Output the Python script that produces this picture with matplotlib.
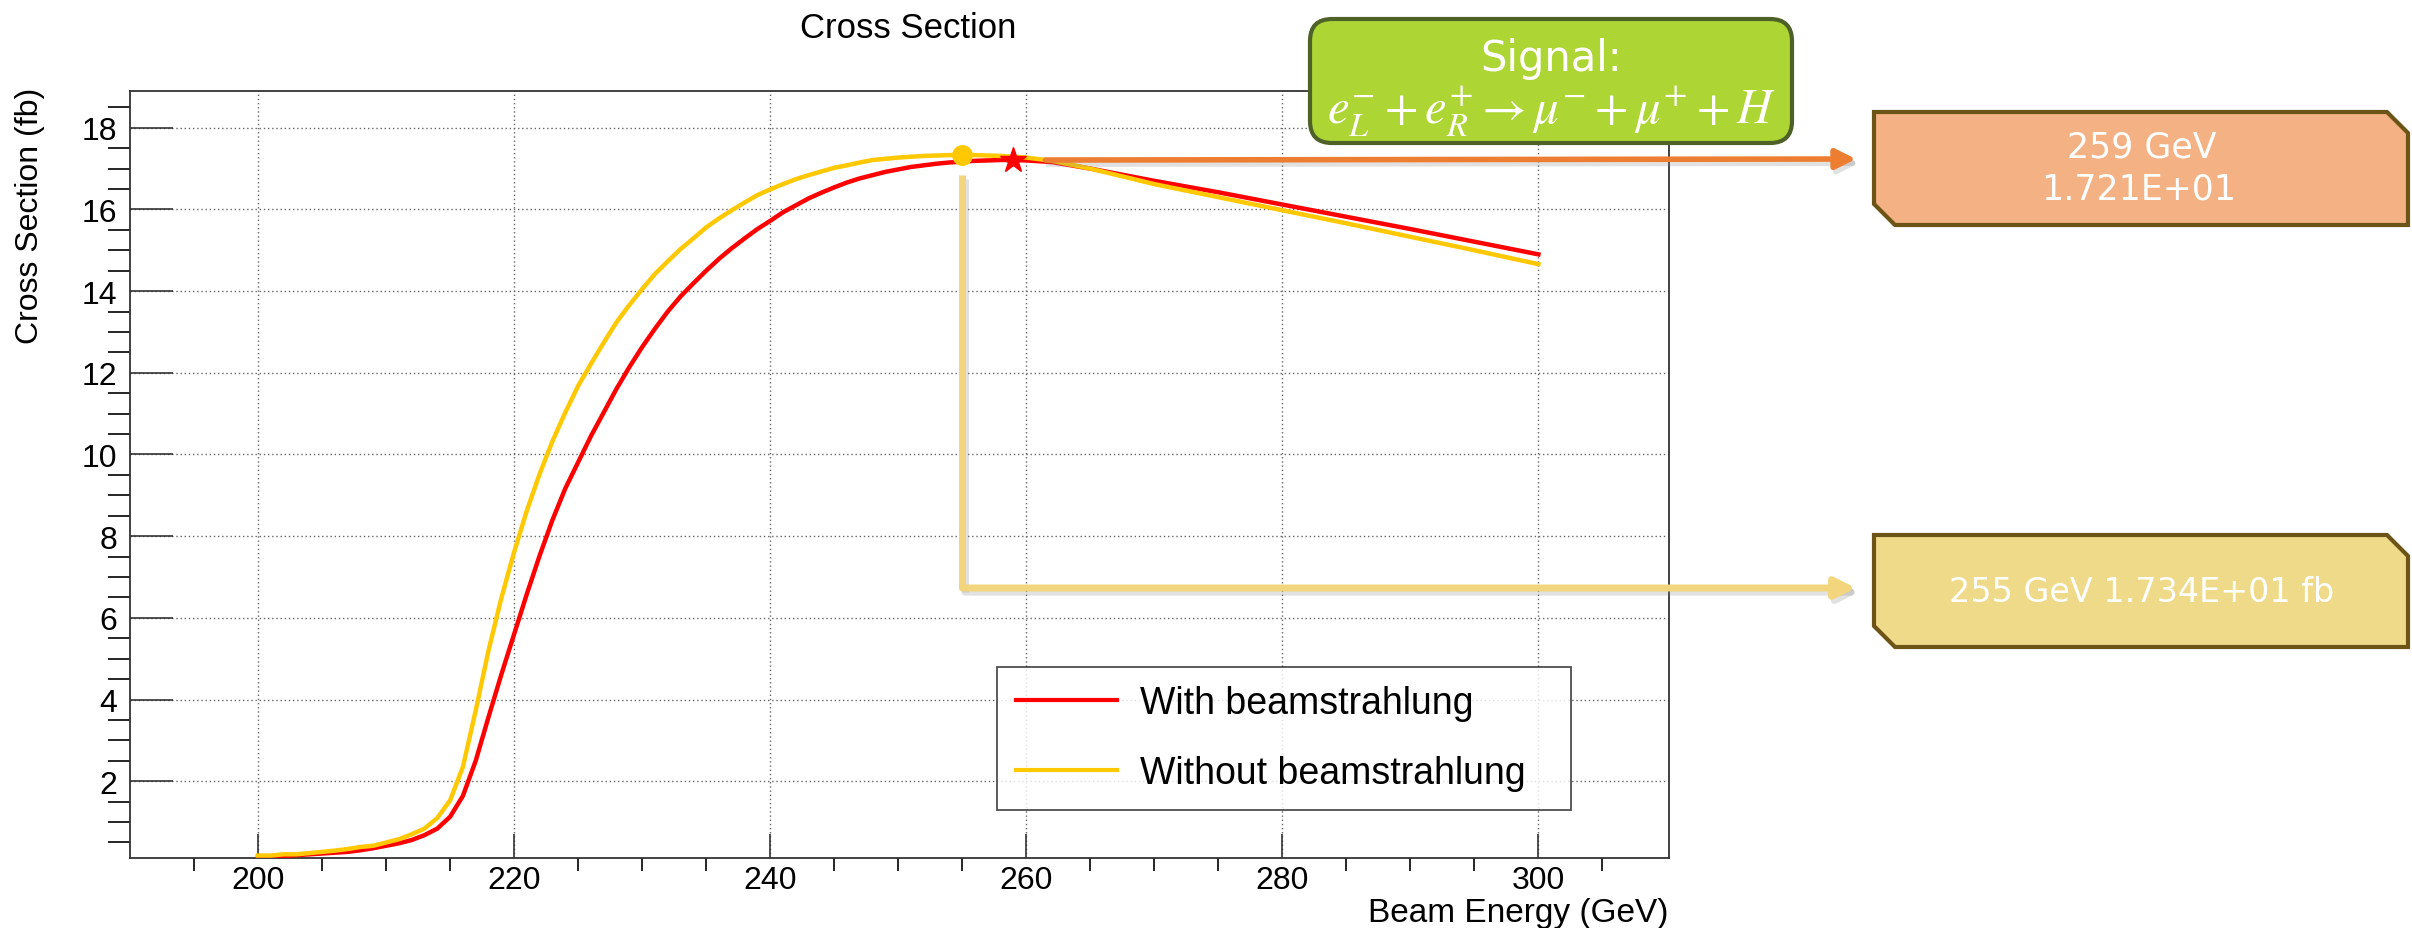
import numpy as np
import matplotlib
matplotlib.use("Agg")
import matplotlib.pyplot as plt
import matplotlib.patheffects as pe
from matplotlib.patches import Polygon, FancyBboxPatch, ConnectionPatch
from matplotlib.lines import Line2D

plt.rcParams['font.family'] = ['Liberation Sans', 'DejaVu Sans']
plt.rcParams['mathtext.fontset'] = 'stix'

# beam energy (GeV)
energy = [200, 201, 202, 203, 204, 205, 206, 207, 208, 209,
          210, 211, 212, 213, 214, 215, 216, 217, 218, 219,
          220, 221, 222, 223, 224, 225, 226, 227, 228, 229,
          230, 231, 232, 233, 234, 235, 236, 237, 238, 239,
          240, 241, 242, 243, 244, 245, 246, 247, 248, 249,
          250, 251, 252, 253, 254, 255, 256, 257, 258, 259,
          260, 262, 265, 270, 275, 280, 285, 290, 295, 300]

# cross section (fb) with beamstrahlung
xs_with = [0.14, 0.15, 0.17, 0.19, 0.21, 0.23, 0.25, 0.27, 0.31, 0.36,
           0.42, 0.48, 0.56, 0.68, 0.84, 1.13, 1.64, 2.50, 3.57, 4.61,
           5.60, 6.59, 7.53, 8.40, 9.17, 9.81, 10.45, 11.03, 11.61, 12.14,
           12.63, 13.08, 13.50, 13.87, 14.19, 14.50, 14.79, 15.05, 15.29, 15.52,
           15.72, 15.93, 16.10, 16.27, 16.41, 16.54, 16.66, 16.76, 16.84, 16.92,
           16.98, 17.04, 17.08, 17.12, 17.15, 17.17, 17.19, 17.20, 17.21, 17.21,
           17.20, 17.16, 17.00, 16.70, 16.42, 16.12, 15.82, 15.52, 15.21, 14.90]

# cross section (fb) without beamstrahlung
xs_without = [0.18, 0.18, 0.21, 0.21, 0.24, 0.27, 0.30, 0.34, 0.39, 0.42,
              0.50, 0.58, 0.70, 0.84, 1.10, 1.53, 2.35, 3.73, 5.20, 6.48,
              7.61, 8.63, 9.53, 10.33, 11.03, 11.68, 12.22, 12.74, 13.24, 13.66,
              14.05, 14.42, 14.73, 15.03, 15.29, 15.56, 15.78, 15.98, 16.17, 16.35,
              16.49, 16.62, 16.74, 16.84, 16.93, 17.02, 17.08, 17.15, 17.21, 17.24,
              17.27, 17.29, 17.31, 17.32, 17.33, 17.34, 17.33, 17.32, 17.31, 17.29,
              17.27, 17.19, 17.00, 16.62, 16.30, 15.98, 15.66, 15.33, 15.00, 14.66]

peak_with = (259, 17.21)
peak_without = (255, 17.34)

W, H = 2412, 929
fig = plt.figure(figsize=(W / 100, H / 100), dpi=100)


def fx(px):
    return px / W


def fy(py):
    return 1 - py / H


ax = fig.add_axes([fx(130), fy(859), fx(1669) - fx(130), fy(92) - fy(859)])

ax.plot(energy, xs_with, color='#ff0000', lw=3.2, label='With beamstrahlung', zorder=3)
ax.plot(energy, xs_without, color='#ffc800', lw=3.2, label='Without beamstrahlung', zorder=3)
ax.plot(*peak_without, marker='o', color='#ffc800', ms=14, zorder=4)
ax.plot(*peak_with, marker='*', color='#ff0000', ms=19, zorder=4)

ax.set_xlim(190, 310.2)
ax.set_ylim(0.12, 18.9)
ax.set_xticks(np.arange(200, 301, 20))
ax.set_xticks(np.arange(195, 310, 5), minor=True)
ax.set_yticks(np.arange(2, 19, 2))
ax.set_yticks(np.arange(0.5, 18.9, 0.5), minor=True)
ax.grid(True, which='major', linestyle=(0, (1, 2)), color='#666666', lw=1.0)
ax.tick_params(direction='in', labelsize=23, color='#333333')
ax.tick_params(axis='y', which='major', length=31, width=1.2, pad=9)
ax.tick_params(axis='y', which='minor', length=16, width=1.2)
ax.tick_params(axis='x', which='major', length=17, width=1.2, pad=5)
ax.tick_params(axis='x', which='minor', length=9, width=1.2)
for s in ax.spines.values():
    s.set_color('#333333')
    s.set_linewidth(1.3)

fig.text(fx(908), fy(28), 'Cross Section', ha='center', va='center', fontsize=25)
fig.text(fx(30), fy(88), 'Cross Section (fb)', rotation=90, ha='center', va='top', fontsize=23)
fig.text(fx(1669), fy(914), 'Beam Energy (GeV)', ha='right', va='center', fontsize=24)

leg = ax.legend(loc='lower left', bbox_to_anchor=(fx(997), fy(811), fx(1571) - fx(997), fy(666) - fy(811)),
                bbox_transform=fig.transFigure, mode='expand', fontsize=27, frameon=True,
                fancybox=False, handlelength=2.7, handletextpad=0.6, labelspacing=0.9,
                borderpad=0.5, borderaxespad=0)
leg.get_frame().set_edgecolor('#222222')
leg.get_frame().set_linewidth(1.3)
for ln in leg.get_lines():
    ln.set_linewidth(3)

# signal box, drawn in inches so the rounding stays circular
sig = FancyBboxPatch((13.10, (H - 144) / 100), 4.82, 1.24,
                     boxstyle='round,pad=0,rounding_size=0.22', transform=fig.dpi_scale_trans,
                     facecolor='#add534', edgecolor='#4e6128', lw=3, zorder=10)
fig.add_artist(sig)
fig.text(fx(1551), fy(59), 'Signal:', ha='center', va='center', fontsize=30,
         color='white', family='DejaVu Sans', zorder=11)
fig.text(fx(1551), fy(112), r'$e_L^{-} + e_R^{+} \rightarrow \mu^{-} + \mu^{+} + H$',
         ha='center', va='center', fontsize=35, color='white', zorder=11)


def tag_box(x0, y0, x1, y1, face, cut=21):
    pts = [(x0, y0), (x1 - cut, y0), (x1, y0 + cut), (x1, y1), (x0 + cut, y1), (x0, y1 - cut)]
    poly = Polygon([(fx(a), fy(b)) for a, b in pts], closed=True, transform=fig.transFigure,
                   facecolor=face, edgecolor='#6b5415', lw=3, zorder=10)
    fig.add_artist(poly)


tag_box(1874, 113, 2408, 226, '#f4b183')
fig.text(fx(2142), fy(148), '259 GeV', ha='center', va='center', fontsize=25,
         color='white', family='DejaVu Sans', zorder=11)
fig.text(fx(2139), fy(189), '1.721E+01', ha='center', va='center', fontsize=25,
         color='white', family='DejaVu Sans', zorder=11)

tag_box(1874, 536, 2408, 648, '#efda8a')
fig.text(fx(2142), fy(593), '255 GeV 1.734E+01 fb', ha='center', va='center', fontsize=24,
         color='white', family='DejaVu Sans', zorder=11)

shadow = [pe.SimpleLineShadow(offset=(2, -3), shadow_color='#888888', alpha=0.25), pe.Normal()]

# orange arrow from the red peak to the orange box
arr = ConnectionPatch((261.5, peak_with[1]), (fx(1856), fy(160)), coordsA='data',
                      coordsB='figure fraction', axesA=ax, arrowstyle='-|>',
                      mutation_scale=30, lw=4, color='#ed7d31', zorder=9)
arr.set_path_effects(shadow)
fig.add_artist(arr)

# yellow elbow arrow from the orange peak to the yellow box
x_peak = ax.transData.transform((peak_without[0], 0))[0] / W
y_elbow = fy(589)
vline = Line2D([x_peak, x_peak], [fy(176), y_elbow], transform=fig.transFigure,
               color='#f2d57c', lw=5, solid_capstyle='butt', zorder=9)
vline.set_path_effects(shadow)
fig.add_artist(vline)
arr2 = ConnectionPatch((x_peak, y_elbow), (fx(1856), y_elbow), coordsA='figure fraction',
                       coordsB='figure fraction', arrowstyle='-|>', mutation_scale=30,
                       lw=5, color='#f2d57c', zorder=9)
arr2.set_path_effects(shadow)
fig.add_artist(arr2)

fig.savefig('out.png', dpi=100)
